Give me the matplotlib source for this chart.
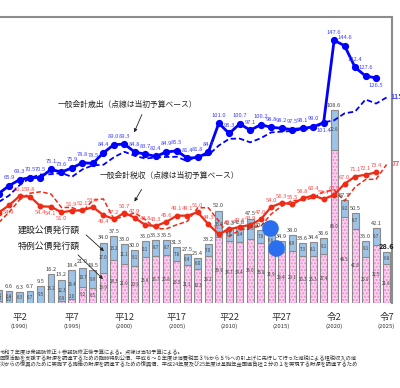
import matplotlib
matplotlib.use('Agg')
import matplotlib.pyplot as plt

plt.rcParams['font.family'] = ['Noto Sans CJK JP', 'DejaVu Sans']

years = list(range(1988, 2026))

# 一般会計歳出（決算）1988-2024、当初予算 1988-2025
exp_settled = [61.5, 65.9, 69.3, 70.5, 70.5, 75.1, 73.6, 75.9, 78.8, 78.5,
               84.4, 89.0, 89.3, 84.8, 83.7, 82.4, 84.9, 85.5, 81.4, 81.8,
               84.7, 101.0, 95.3, 100.7, 97.1, 100.2, 98.8, 98.2, 97.5, 98.1,
               99.0, 101.4, 147.6, 144.6, 132.4, 127.6, 126.5]
exp_budget = [56.7, 60.4, 66.2, 70.3, 72.2, 72.4, 73.1, 70.9, 75.1, 77.4,
              77.7, 81.9, 85.0, 82.7, 81.2, 81.8, 82.1, 82.2, 79.7, 82.9,
              83.1, 88.5, 92.3, 92.4, 90.3, 92.6, 95.9, 96.3, 96.7, 97.5,
              97.7, 101.5, 102.7, 106.6, 107.6, 114.4, 112.1, 115.5]

# 一般会計税収（決算）1988-2024、当初予算 1988-2025
tax_settled = [50.8, 54.9, 60.1, 59.8, 54.4, 54.1, 51.0, 51.9, 52.1, 53.9,
               49.4, 47.2, 50.7, 47.9, 43.8, 43.3, 45.6, 49.1, 49.1, 51.0,
               44.3, 38.7, 41.5, 42.8, 43.9, 47.0, 54.0, 56.3, 55.5, 58.8,
               60.4, 58.4, 60.8, 67.0, 71.1, 72.1, 73.4]
tax_budget = [45.1, 51.0, 58.0, 61.7, 62.5, 61.3, 53.7, 53.7, 51.3, 57.8,
              58.5, 47.1, 48.7, 50.7, 46.8, 41.8, 41.7, 44.0, 45.9, 53.5,
              53.6, 46.1, 37.4, 41.0, 42.3, 43.1, 50.0, 54.5, 57.6, 57.7,
              59.1, 62.5, 63.5, 57.4, 65.2, 69.4, 69.6, 77.8]

# 公債発行額
bond_total = [7.2, 6.6, 6.3, 6.7, 9.5, 16.2, 13.2, 18.4, 21.0, 18.5,
              34.0, 37.5, 33.0, 30.0, 35.0, 35.3, 35.5, 31.3, 27.5, 25.4,
              33.2, 52.0, 42.3, 42.8, 47.5, 40.9, 38.5, 34.9, 38.0, 33.6,
              34.4, 36.6, 108.6, 57.7, 50.5, 35.0, 42.1, 28.6]
bond_constr = [6.2, 6.4, 6.3, 6.7, 9.5, 16.2, 12.3, 16.4, 10.7, 9.9,
               17.0, 13.2, 11.1, 9.1, 9.1, 8.7, 8.7, 7.8, 6.4, 6.0,
               7.0, 15.0, 7.6, 8.4, 11.5, 7.0, 6.6, 6.5, 8.9, 7.3,
               8.1, 9.1, 22.6, 9.2, 8.7, 9.1, 9.7, 6.8]
bond_deficit = [1.0, 0.2, 0.0, 0.0, 0.0, 0.0, 0.9, 2.0, 9.2, 8.5,
                16.9, 24.3, 21.9, 20.9, 25.8, 26.7, 26.8, 23.5, 21.1, 19.3,
                26.2, 36.9, 34.7, 34.4, 36.0, 33.8, 31.9, 28.4, 29.1, 26.3,
                26.3, 27.4, 86.0, 48.5, 41.8, 25.9, 32.5, 21.8]

tick_years = [1990, 1995, 2000, 2005, 2010, 2015, 2020, 2025]
tick_era = ['平2', '平7', '平12', '平17', '平22', '平27', '令2', '令7']

notes = [
    '令和７年度は衆議院修正＋参議院修正後予算による。点線は当初予算による。',
    '回復活動を支援する財源を調達するための臨時特別公債、平成６～８年度は消費税率３％から５％への引上げに先行して行った減税による租税収入の減',
    '災からの復興のために実施する施策の財源を調達するための復興債、平成24年度及び25年度は基礎年金国庫負担２分の１を実現する財源を調達するため',
]

BLUE = '#0000ff'
BLUE_T = '#4040ff'
RED = '#f02a14'
RED_T = '#ff4a4a'
EDGE = '#8a8a8a'

fig = plt.figure(figsize=(4.0, 3.88), dpi=100)
ax = fig.add_axes([0, 0.219, 0.98, 0.737])


def pf(x, y):
    # 画素座標 -> figure fraction
    return (x / 400, 1 - y / 388)


# 棒グラフ
w = 0.66
ax.bar(years, bond_deficit, w, color='#fcd3ef', lw=0, zorder=2)
ax.bar(years, bond_deficit, w, color='none', edgecolor='#ee88d4', hatch='.....', lw=0, zorder=2)
ax.bar(years, bond_deficit, w, color='none', edgecolor=EDGE, lw=0.8, zorder=3)
ax.bar(years, bond_constr, w, bottom=bond_deficit, color='#9dc3e6', edgecolor=EDGE, lw=0.8, zorder=3)

for i, yr in enumerate(years):
    if yr == 2025:
        ax.annotate(f'{bond_total[i]:.1f}', (yr, bond_total[i]), xytext=(0, 1.5),
                    textcoords='offset points', ha='center', va='bottom',
                    fontsize=5.3, fontweight='bold', fontstyle='italic', color='#111111', zorder=6)
    else:
        ax.annotate(f'{bond_total[i]:.1f}', (yr, bond_total[i]), xytext=(0, 1.5),
                    textcoords='offset points', ha='center', va='bottom',
                    fontsize=4.1, color='#404040', zorder=6)
    ax.text(yr, bond_deficit[i] + bond_constr[i] / 2, f'{bond_constr[i]:.1f}',
            ha='center', va='center', fontsize=3.2, color='#404040', zorder=6)
    if bond_deficit[i] > 0:
        ax.text(yr, bond_deficit[i] / 2 if bond_deficit[i] > 3 else bond_deficit[i] + 0.3,
                f'{bond_deficit[i]:.1f}', ha='center',
                va='center' if bond_deficit[i] > 3 else 'bottom',
                fontsize=3.2, color='#404040', zorder=6)

# 歳出
sy = years[:len(exp_settled)]
ax.plot(years, exp_budget, color=BLUE, lw=1.3, ls=(0, (3, 1.6)), zorder=4)
ax.plot(sy, exp_settled, color=BLUE, lw=2.0, marker='o', ms=4.2, zorder=5)
exp_below = [2019, 2024]
for yr, v in zip(sy, exp_settled):
    if yr in exp_below:
        ax.annotate(f'{v:.1f}', (yr, v), xytext=(0, -4), textcoords='offset points',
                    ha='center', va='top', fontsize=4.2, color=BLUE_T, zorder=6)
    else:
        ax.annotate(f'{v:.1f}', (yr, v), xytext=(0, 4), textcoords='offset points',
                    ha='center', va='bottom', fontsize=4.2, color=BLUE_T, zorder=6)
ax.annotate(f'{exp_budget[-1]:.1f}', (years[-1], exp_budget[-1]), xytext=(2.5, 1),
            textcoords='offset points', ha='left', va='center', fontsize=5,
            fontweight='bold', color=BLUE_T, annotation_clip=False, zorder=6)

# 税収
ty = years[:len(tax_settled)]
ax.plot(years, tax_budget, color=RED, lw=1.1, ls=(0, (3, 1.6)), zorder=4)
ax.plot(ty, tax_settled, color=RED, lw=1.6, marker='o', ms=3.2, zorder=5)
tax_below = [1989, 1992, 1993, 1994, 1998]
for yr, v in zip(ty, tax_settled):
    if yr in tax_below:
        ax.annotate(f'{v:.1f}', (yr, v), xytext=(0, -3), textcoords='offset points',
                    ha='center', va='top', fontsize=4.2, color=RED_T, zorder=6)
    else:
        ax.annotate(f'{v:.1f}', (yr, v), xytext=(0, 3), textcoords='offset points',
                    ha='center', va='bottom', fontsize=4.2, color=RED_T, zorder=6)
ax.annotate(f'{tax_budget[-1]:.1f}', (years[-1], tax_budget[-1]), xytext=(4, 1),
            textcoords='offset points', ha='left', va='center', fontsize=5,
            fontweight='bold', color=RED_T, annotation_clip=False, zorder=6)

# 青い丸（原図の重ね描き）
ax.scatter([0.688, 0.704], [0.264, 0.192], s=120, color='#2a6ff0',
           transform=ax.transAxes, zorder=7)

ax.set_xlim(1988.14, 2025.52)
ax.set_ylim(0, 160.7)
ax.set_xticks([])
ax.set_yticks([])
for s in ['left', 'bottom']:
    ax.spines[s].set_visible(False)
for s in ['top', 'right']:
    ax.spines[s].set_color('#8c8c8c')
    ax.spines[s].set_linewidth(1.5)

# 年度ラベル
trans = ax.get_xaxis_transform()
for yr, era in zip(tick_years, tick_era):
    ax.text(yr, -0.05, era, transform=trans, ha='center', va='center', fontsize=6.8, color='#333333')
    ax.text(yr, -0.083, f'({yr})', transform=trans, ha='center', va='center', fontsize=4.3, color='#333333')

# 注記・矢印
ax.annotate('', xy=pf(133, 135), xytext=pf(143, 112), xycoords='figure fraction',
            arrowprops=dict(arrowstyle='-|>', color='#222222', lw=0.6, mutation_scale=5))
ax.annotate('', xy=pf(133, 204), xytext=pf(143, 187), xycoords='figure fraction',
            arrowprops=dict(arrowstyle='-|>', color='#222222', lw=0.6, mutation_scale=5))
ax.annotate('', xy=pf(106, 253), xytext=pf(84, 233), xycoords='figure fraction',
            arrowprops=dict(arrowstyle='-|>', color='#222222', lw=0.6, mutation_scale=5))
ax.annotate('', xy=pf(105, 281), xytext=pf(76, 253), xycoords='figure fraction',
            arrowprops=dict(arrowstyle='-|>', color='#222222', lw=0.6, mutation_scale=5))

fig.text(*pf(127, 105), '一般会計歳出（点線は当初予算ベース）', ha='center', va='center',
         fontsize=5.6, color='#222222')
fig.text(*pf(169, 176), '一般会計税収（点線は当初予算ベース）', ha='center', va='center',
         fontsize=5.6, color='#222222')
fig.text(*pf(18, 230), '建設公債発行額', ha='left', va='center', fontsize=6.4, color='#222222')
fig.text(*pf(18, 246), '特例公債発行額', ha='left', va='center', fontsize=6.4, color='#222222')

for k, line in enumerate(notes):
    fig.text(*pf(0, 353 + 5.4 * k), line, ha='left', va='center', fontsize=3.8, color='#333333')

fig.savefig('out.png', dpi=100)
